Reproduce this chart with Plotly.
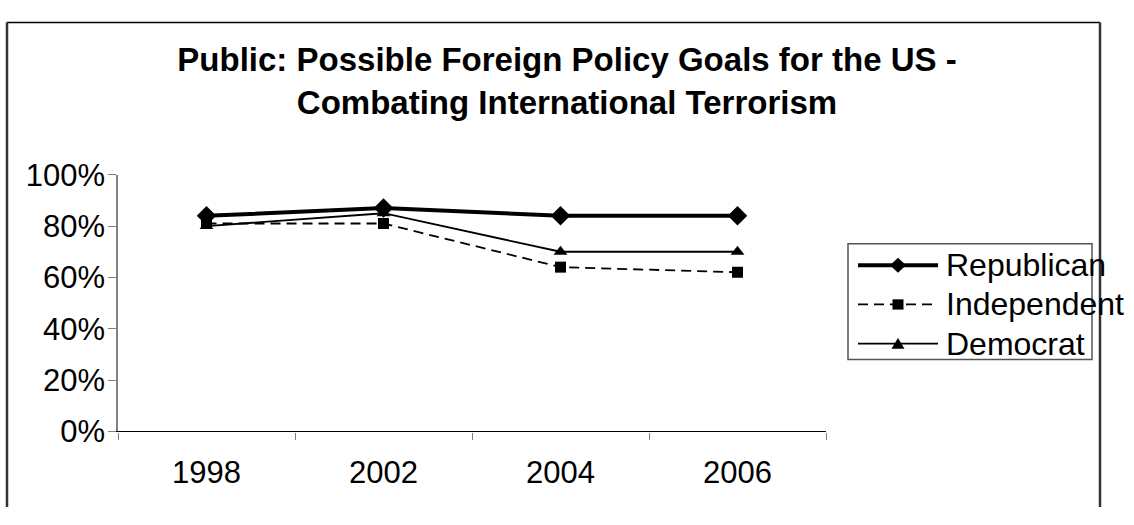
import plotly.graph_objects as go

# ---------------- data ----------------
years = ["1998", "2002", "2004", "2006"]
republican = [0.84, 0.87, 0.84, 0.84]
independent = [0.81, 0.81, 0.64, 0.62]
democrat = [0.80, 0.85, 0.70, 0.70]
y_ticks = [0, 0.2, 0.4, 0.6, 0.8, 1.0]
y_tick_labels = ["0%", "20%", "40%", "60%", "80%", "100%"]
series_names = ["Republican", "Independent", "Democrat"]
title_text = "Public: Possible Foreign Policy Goals for the US -<br>Combating International Terrorism"

# ---------------- geometry (pixels) ----------------
W, H = 1134, 525
PL, PR, PT, PB = 118, 826, 169, 444  # plot area
FONT = "Liberation Sans, Arial, sans-serif"
FS = 31

fig = go.Figure()

styles = [
    dict(width=4, dash="solid", symbol="diamond", size=15),
    dict(width=1.8, dash="10px,6px", symbol="square", size=11),
    dict(width=1.8, dash="solid", symbol="triangle-up", size=12),
]
for name, vals, st in zip(series_names, [republican, independent, democrat], styles):
    fig.add_trace(go.Scatter(
        x=years, y=vals, name=name, mode="lines+markers",
        line=dict(color="black", width=st["width"], dash=st["dash"]),
        marker=dict(symbol=st["symbol"], size=st["size"], color="black"),
        showlegend=False, cliponaxis=False,
    ))

fig.update_layout(
    width=W, height=H,
    margin=dict(l=0, r=0, t=0, b=0),
    paper_bgcolor="white", plot_bgcolor="rgba(0,0,0,0)",
    xaxis=dict(
        domain=[PL / W, PR / W], type="category", range=[-0.5, 3.5],
        showline=True, linecolor="black", linewidth=1.2,
        ticks="outside", tickson="boundaries", ticklen=7, tickcolor="#808080", tickwidth=1.2,
        ticklabelstandoff=13,
        showgrid=False, zeroline=False,
        tickfont=dict(family=FONT, size=FS, color="black"),
        fixedrange=True,
    ),
    yaxis=dict(
        domain=[(H - PB) / H, (H - PT) / H], range=[0, 1],
        tickvals=y_ticks, ticktext=y_tick_labels,
        showline=True, linecolor="#808080", linewidth=1.5,
        ticks="outside", ticklen=8, tickcolor="#808080", tickwidth=1.2,
        ticklabelstandoff=-3,
        showgrid=False, zeroline=False,
        tickfont=dict(family=FONT, size=FS, color="black"),
        fixedrange=True,
    ),
    # invisible overlay axes in page pixels for decorations
    xaxis2=dict(domain=[0, 1], range=[0, W], visible=False, anchor="y2", fixedrange=True),
    yaxis2=dict(domain=[0, 1], range=[H, 0], visible=False, anchor="x2", fixedrange=True),
    title=dict(
        text=title_text, x=0.5, xanchor="center", y=1 - 71 / H, yanchor="middle",
        font=dict(family=FONT, size=33, color="black", weight="bold"),
    ),
    showlegend=False,
)

shapes = []
# chart frame
shapes.append(dict(type="line", xref="x2", yref="y2", x0=7, x1=1100, y0=6, y1=6,
                   line=dict(color="black", width=1.5)))
shapes.append(dict(type="line", xref="x2", yref="y2", x0=7, x1=7, y0=6, y1=H + 2,
                   line=dict(color="#333333", width=2.5)))
shapes.append(dict(type="line", xref="x2", yref="y2", x0=1100, x1=1100, y0=6, y1=H + 2,
                   line=dict(color="#333333", width=2.5)))

# legend box
LX0, LX1, LY0, LY1 = 848, 1092, 243, 367
shapes.append(dict(type="rect", xref="x2", yref="y2", x0=LX0, x1=LX1, y0=LY0, y1=LY1,
                   line=dict(color="#555555", width=1.5), fillcolor="rgba(0,0,0,0)"))

item_y = [266, 308, 350]
sx0, sx1, mx = 858, 938, 898
annotations = []
for i, (name, st) in enumerate(zip(series_names, styles)):
    yy = item_y[i]
    shapes.append(dict(type="line", xref="x2", yref="y2", x0=sx0, x1=sx1, y0=yy, y1=yy,
                       line=dict(color="black", width=st["width"], dash=st["dash"])))
    if st["symbol"] == "diamond":
        r = 8
        path = f"M{mx-r},{yy} L{mx},{yy-r} L{mx+r},{yy} L{mx},{yy+r} Z"
    elif st["symbol"] == "square":
        r = 5.5
        path = f"M{mx-r},{yy-r} L{mx+r},{yy-r} L{mx+r},{yy+r} L{mx-r},{yy+r} Z"
    else:
        r = 6.5
        path = f"M{mx-r},{yy+5.5} L{mx+r},{yy+5.5} L{mx},{yy-6} Z"
    shapes.append(dict(type="path", xref="x2", yref="y2", path=path,
                       fillcolor="black", line=dict(color="black", width=0)))
    annotations.append(dict(xref="x2", yref="y2", x=944, y=yy, text=name, showarrow=False,
                            xanchor="left", yanchor="middle",
                            font=dict(family=FONT, size=32, color="black")))

fig.update_layout(shapes=shapes, annotations=annotations)
# dummy trace to activate overlay axes
fig.add_trace(go.Scatter(x=[None], y=[None], xaxis="x2", yaxis="y2", showlegend=False, hoverinfo="skip"))

fig.write_html("out.html")
